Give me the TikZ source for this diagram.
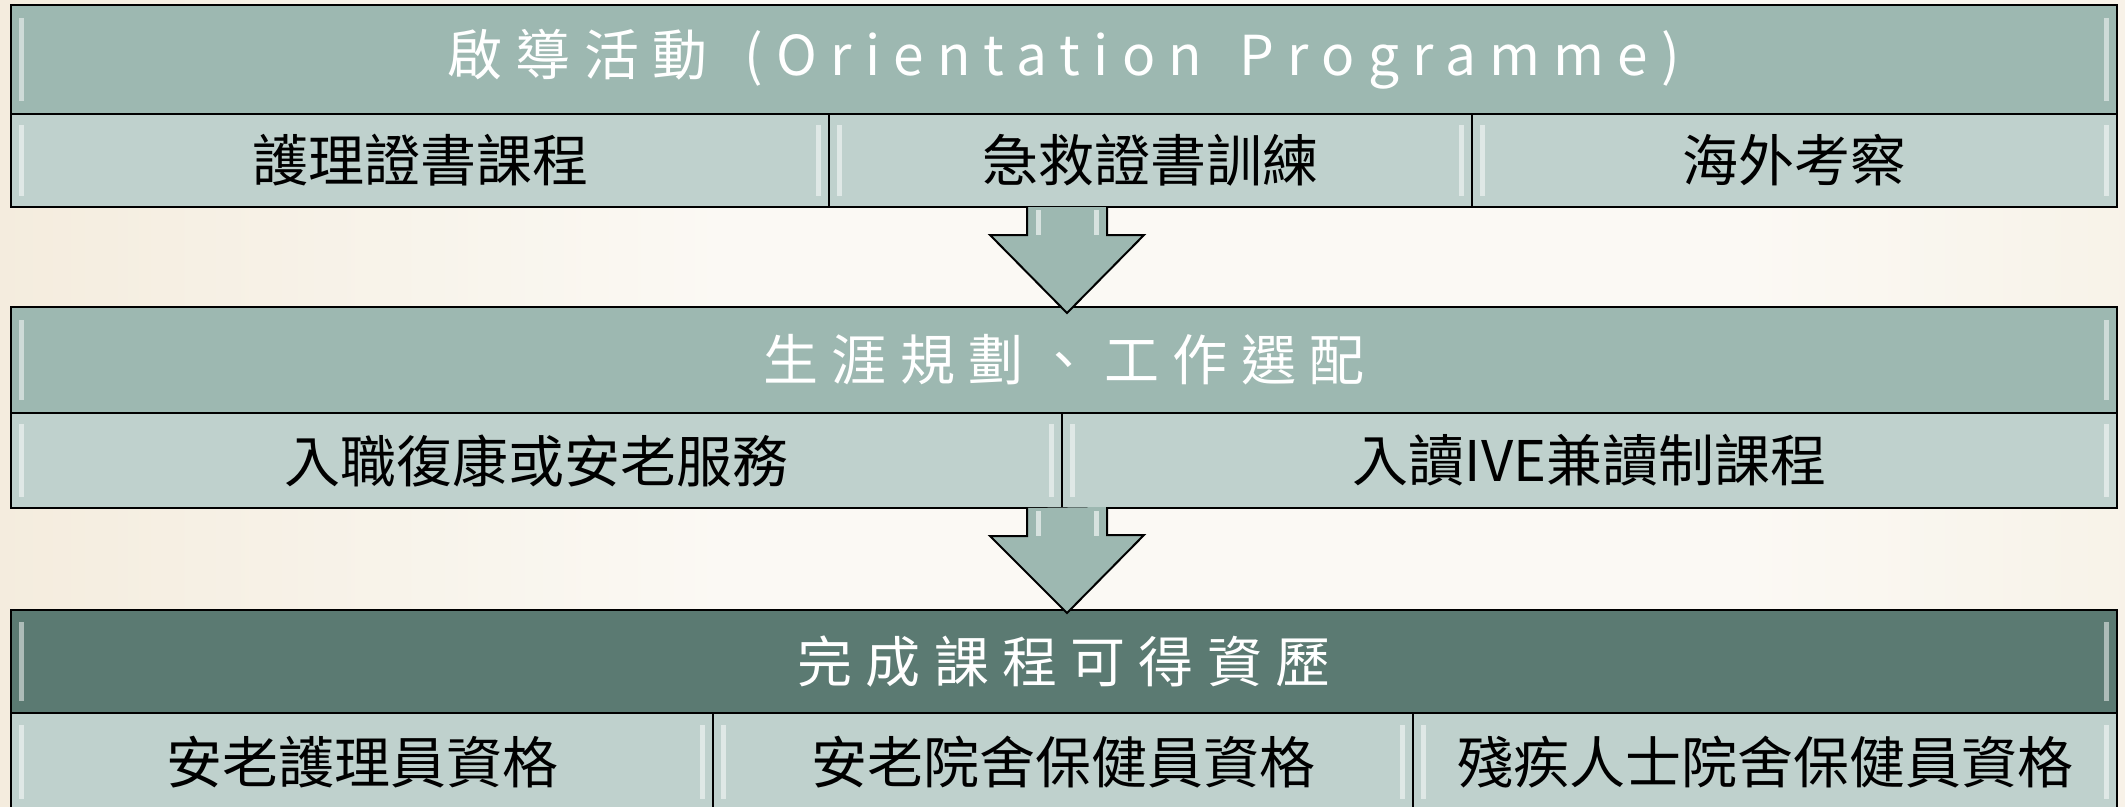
\documentclass[tikz,border=0pt]{standalone}
\usepackage{fontspec}
\setmainfont{Noto Sans CJK TC}
\newfontfamily\hdrfont[LetterSpace=24]{Noto Sans CJK TC}
\usetikzlibrary{calc}

\definecolor{hdrgreen}{RGB}{157,184,177}
\definecolor{subgreen}{RGB}{191,209,205}
\definecolor{darkgreen}{RGB}{91,122,114}
\definecolor{bgtan}{RGB}{232,213,180}
\definecolor{bgmid}{RGB}{243,234,218}
\definecolor{bgcream}{RGB}{251,249,244}
\definecolor{bgtanr}{RGB}{238,224,200}
\pgfdeclarehorizontalshading{bgshade}{100bp}{color(0bp)=(bgtan); color(22bp)=(bgmid); color(42bp)=(bgcream); color(66bp)=(bgcream); color(100bp)=(bgtanr)}

\tikzset{
  box/.style={draw=black, line width=2.5pt, inner sep=0pt, outer sep=0pt, anchor=north west,
    path picture={
      \fill[white, opacity=.5] ([xshift=8pt]$(path picture bounding box.north west)!.12!(path picture bounding box.south west)$)
        rectangle ([xshift=13pt]$(path picture bounding box.north west)!.88!(path picture bounding box.south west)$);
      \fill[white, opacity=.5] ([xshift=-13pt]$(path picture bounding box.north east)!.12!(path picture bounding box.south east)$)
        rectangle ([xshift=-8pt]$(path picture bounding box.north east)!.88!(path picture bounding box.south east)$);
    }},
  hdrbox/.style={box, fill=hdrgreen, text=white, font=\hdrfont\fontsize{55}{60}\selectfont},
  topbox/.style={hdrbox, fill=darkgreen},
  subbox/.style={box, fill=subgreen, text=black, font=\fontsize{56}{62}\selectfont},
  blockarrow/.style={draw=black, line width=2pt, fill=hdrgreen, line join=miter},
  glint/.style={white, opacity=.6, line width=5pt}
}

\begin{document}
\begin{tikzpicture}[x=1pt,y=1pt,yscale=-1,xscale=1]
\useasboundingbox (0,0) rectangle (2125,806);
\shade[shading=bgshade] (0,0) rectangle (2125,806);

% Orientation
\node[hdrbox, minimum width=2106pt, minimum height=109pt] (h1) at (11,5) {啟導活動\hspace{12pt} (Orientation\hspace{12pt} Programme)};
\node[subbox, minimum width=818pt, minimum height=93pt] (r1a) at (11,114) {護理證書課程};
\node[subbox, minimum width=643pt, minimum height=93pt] (r1b) at (829,114) {急救證書訓練};
\node[subbox, minimum width=645pt, minimum height=93pt] (r1c) at (1472,114) {海外考察};

% Career planning
\node[hdrbox, minimum width=2106pt, minimum height=106pt] (h2) at (11,307) {生涯規劃、工作選配};
\node[subbox, minimum width=1051pt, minimum height=95pt] (r2a) at (11,413) {入職復康或安老服務};
\node[subbox, minimum width=1055pt, minimum height=95pt] (r2b) at (1062,413) {入讀IVE兼讀制課程};

% Qualifications
\node[topbox, minimum width=2106pt, minimum height=103pt] (h3) at (11,610) {完成課程可得資歷};
\node[subbox, minimum width=702pt, minimum height=98pt] (r3a) at (11,713) {安老護理員資格};
\node[subbox, minimum width=700pt, minimum height=98pt] (r3b) at (713,713) {安老院舍保健員資格};
\node[subbox, minimum width=704pt, minimum height=98pt] (r3c) at (1413,713) {殘疾人士院舍保健員資格};

% Arrows
\coordinate (a1top) at (r1b.south -| 1067,0);
\coordinate (a1tip) at (1067,313);
\coordinate (a2top) at (r2a.south -| 1067,0);
\coordinate (a2tip) at (1067,613);
\foreach \s/\t in {a1top/a1tip, a2top/a2tip}{
  \draw[blockarrow] (\s) ++(-40,0) -- ++(0,28) -- ++(-37,0) -- (\t) -- ++(77,-78) -- ++(-37,0) -- ++(0,-28);
  \draw[glint] (\s) ++(-29,3) -- ++(0,25);
  \draw[glint] (\s) ++(29,3) -- ++(0,25);
}

\end{tikzpicture}
\end{document}
